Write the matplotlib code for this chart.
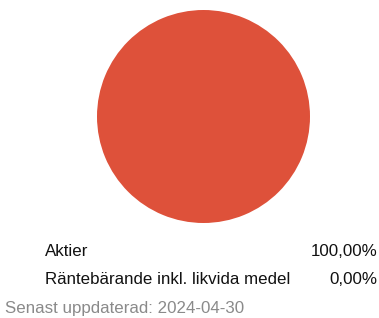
import matplotlib.pyplot as plt

labels = ["Aktier", "Räntebärande inkl. likvida medel"]
values = [100.0, 0.0]
colors = ["#DE513A", "#4A90C8"]
updated = "Senast uppdaterad: 2024-04-30"

plt.rcParams['font.family'] = ['Liberation Sans', 'DejaVu Sans']

W, H = 379, 318
fig = plt.figure(figsize=(W / 100, H / 100), dpi=100)

# pie circle roughly x 97..310, y 10..223 (pixels)
ax = fig.add_axes([97 / W, (H - 223) / H, 213 / W, 213 / H])
ax.pie(values, colors=colors, startangle=90, counterclock=False,
       wedgeprops=dict(linewidth=0))
ax.set_xlim(-1, 1)
ax.set_ylim(-1, 1)
ax.set_aspect('equal')
ax.axis('off')

# legend rows
row_y = [251, 279]
for lab, val, y in zip(labels, values, row_y):
    fig.text(45 / W, 1 - y / H, lab, fontsize=12.2, color="#111111", va='center', ha='left')
    txt = f"{val:.2f}".replace('.', ',') + "%"
    fig.text(377 / W, 1 - y / H, txt, fontsize=12.2, color="#111111", va='center', ha='right')

fig.text(5 / W, 1 - 309 / H, updated, fontsize=12.2, color="#8a8a8a", va='center', ha='left')

fig.savefig("out.png", dpi=100)
